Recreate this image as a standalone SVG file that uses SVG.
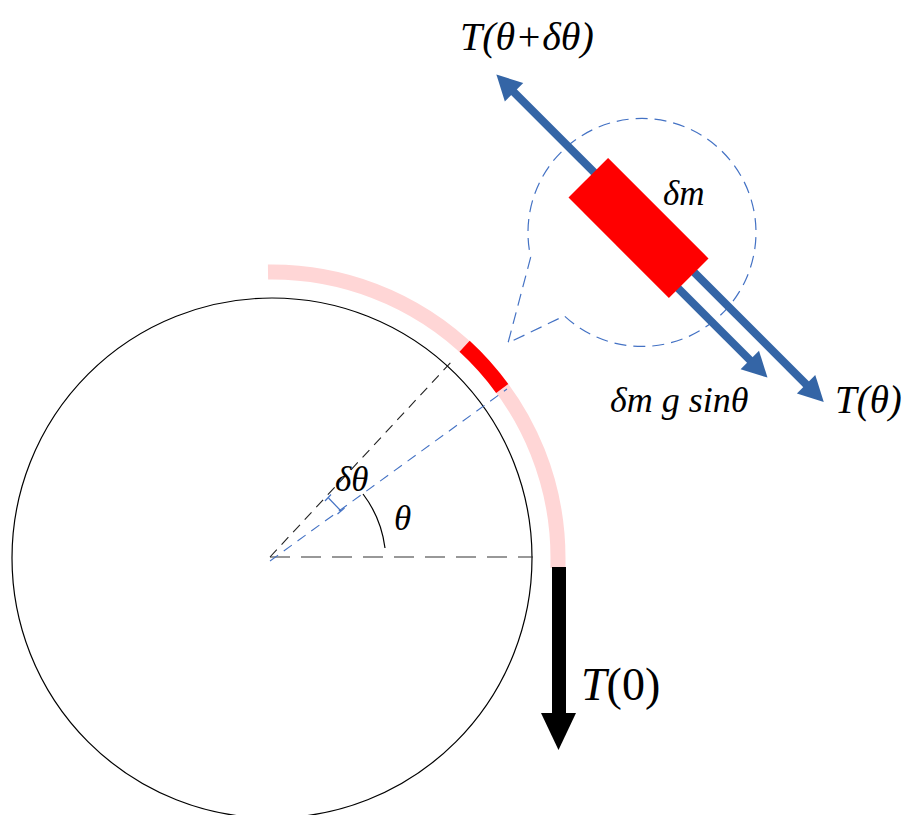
<svg xmlns="http://www.w3.org/2000/svg" width="911" height="815" viewBox="0 0 911 815">
<style>
.lbl{font-family:"Liberation Serif","DejaVu Serif",serif;font-style:italic;fill:#000}
.up{font-style:normal}
.blue{fill:#3465A6}
.bline{stroke:#3465A6;stroke-width:8;fill:none}
</style>
<rect width="911" height="815" fill="#fff"/>
<g id="wheel">
<circle cx="272" cy="558" r="260" fill="none" stroke="#000" stroke-width="1.2"/>
</g>
<g id="rope">
<path d="M268 272 A286 286 0 0 1 558 558 L558 568" fill="none" stroke="#FFD6D6" stroke-width="15"/>
<path d="M464.6 346.3 A286 286 0 0 1 502.2 388.5" fill="none" stroke="#FF0000" stroke-width="15"/>
</g>
<g id="guides">
<line x1="270" y1="557" x2="533" y2="557" stroke="#333" stroke-width="1.2" stroke-dasharray="20 11"/>
<line x1="270" y1="557" x2="453" y2="360" stroke="#222" stroke-width="1.1" stroke-dasharray="10 7"/>
<line x1="270" y1="561" x2="507" y2="389" stroke="#4472C4" stroke-width="1.1" stroke-dasharray="10 7"/>
<path d="M385 548 A112 112 0 0 0 363 494" fill="none" stroke="#000" stroke-width="1.2"/>
<line x1="328.5" y1="498" x2="341" y2="511" stroke="#4472C4" stroke-width="1.2"/>
<line x1="325" y1="501" x2="331" y2="494.5" stroke="#4472C4" stroke-width="1.2"/>
<line x1="337.5" y1="514" x2="344.5" y2="508" stroke="#4472C4" stroke-width="1.2"/>
</g>
<g id="callout">
<path d="M530.7 257.2 L508 343 L564.3 315.9 A114 114 0 1 0 530.7 257.2" fill="none" stroke="#4472C4" stroke-width="1.2" stroke-dasharray="12 7"/>
</g>
<g id="element" transform="translate(638.5 228) rotate(45)">
<line class="bline" x1="-186" y1="-8" x2="233" y2="-8"/>
<polygon class="blue" points="-209,-8 -184,-21 -184,5"/>
<polygon class="blue" points="254,-8 229,-21 229,5"/>
<line class="bline" x1="40" y1="14.6" x2="177" y2="14.6"/>
<polygon class="blue" points="197,14.6 172,1.6 172,27.6"/>
<rect x="-71" y="-28" width="142" height="56" fill="#FF0000"/>
</g>
<g id="t0-arrow">
<rect x="552" y="567" width="14" height="147" fill="#000"/>
<polygon points="541,713 576,713 558.5,750" fill="#000"/>
</g>
<g id="labels">
<text class="lbl" x="460" y="50" font-size="40">T(θ+δθ)</text>
<text class="lbl" x="663" y="205" font-size="35">δm</text>
<text class="lbl" x="610" y="412" font-size="36">δm g sinθ</text>
<text class="lbl" x="835" y="413" font-size="39">T(θ)</text>
<text class="lbl" x="335" y="491" font-size="35">δθ</text>
<text class="lbl" x="394" y="530" font-size="35">θ</text>
<text class="lbl" x="581" y="700" font-size="46">T<tspan class="up">(0)</tspan></text>
</g>
</svg>
